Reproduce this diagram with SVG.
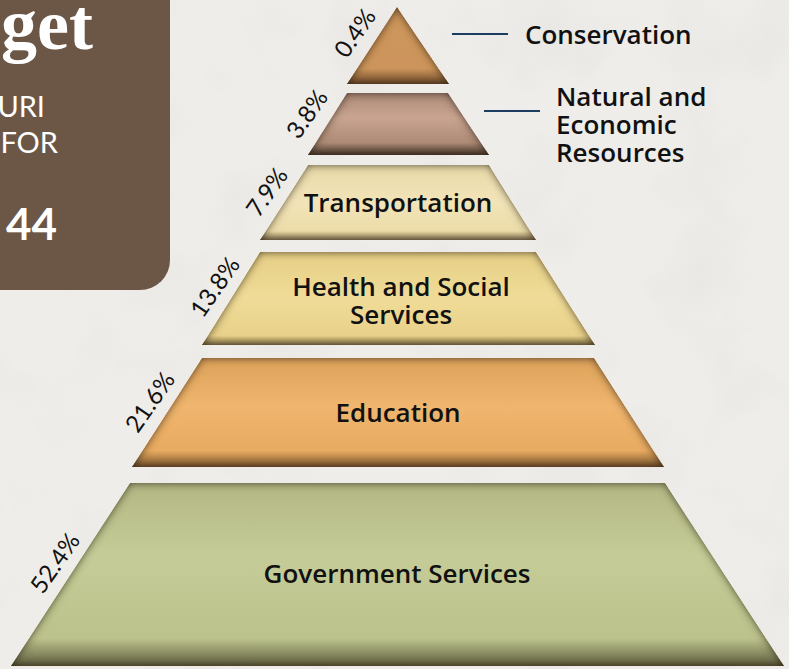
<svg xmlns="http://www.w3.org/2000/svg" width="789" height="669" viewBox="0 0 789 669">
<style>
.lbl{font-family:"Open Sans",Lato,"DejaVu Sans",sans-serif;font-weight:600;font-size:26px;fill:#111;}
.pct{font-family:Lato,"Open Sans","DejaVu Sans",sans-serif;font-weight:400;font-size:24px;fill:#111;}
.hdr{font-family:Lato,"Open Sans","DejaVu Sans",sans-serif;fill:#fff;}
.conn{stroke:#1d3c62;stroke-width:2;fill:none;}
.tier{filter:url(#inner);}
</style>
<defs>
<filter id="inner" x="-5%" y="-5%" width="110%" height="115%">
  <feGaussianBlur in="SourceAlpha" stdDeviation="4" result="b"/>
  <feComposite in="SourceAlpha" in2="b" operator="arithmetic" k2="1" k3="-1" result="edge"/>
  <feFlood flood-color="#3b2c1c" flood-opacity="0.75"/>
  <feComposite in2="edge" operator="in" result="sh"/>
  <feMerge><feMergeNode in="SourceGraphic"/><feMergeNode in="sh"/><feMergeNode in="sh"/></feMerge>
</filter>
<filter id="tex" x="0" y="0" width="100%" height="100%">
  <feTurbulence type="fractalNoise" baseFrequency="0.012" numOctaves="3" seed="4"/>
  <feColorMatrix type="matrix" values="0 0 0 0 0.6  0 0 0 0 0.58  0 0 0 0 0.56  0 0 0 -0.9 0.5"/>
</filter>
<linearGradient id="g1" x1="0" y1="0" x2="0" y2="1"><stop offset="0" stop-color="#cd975c"/><stop offset="0.8" stop-color="#cc945b"/><stop offset="1" stop-color="#6e4c2e"/></linearGradient>
<linearGradient id="g2" x1="0" y1="0" x2="0" y2="1"><stop offset="0" stop-color="#ab8b78"/><stop offset="0.4" stop-color="#c9a591"/><stop offset="0.8" stop-color="#ad8b76"/><stop offset="1" stop-color="#4a3a30"/></linearGradient>
<linearGradient id="g3" x1="0" y1="0" x2="0" y2="1"><stop offset="0" stop-color="#e8d9a8"/><stop offset="0.5" stop-color="#f2e4b8"/><stop offset="0.88" stop-color="#ecdca8"/><stop offset="1" stop-color="#8f7d5a"/></linearGradient>
<linearGradient id="g4" x1="0" y1="0" x2="0" y2="1"><stop offset="0" stop-color="#e6cf86"/><stop offset="0.5" stop-color="#f0dc98"/><stop offset="0.9" stop-color="#e8d18a"/><stop offset="1" stop-color="#8c7a4c"/></linearGradient>
<linearGradient id="g5" x1="0" y1="0" x2="0" y2="1"><stop offset="0" stop-color="#dda35c"/><stop offset="0.45" stop-color="#f0b56e"/><stop offset="0.85" stop-color="#e8ab62"/><stop offset="1" stop-color="#7a5530"/></linearGradient>
<linearGradient id="g6" x1="0" y1="0" x2="0" y2="1"><stop offset="0" stop-color="#b3b783"/><stop offset="0.4" stop-color="#c5cc97"/><stop offset="0.85" stop-color="#bcc28c"/><stop offset="1" stop-color="#5e5f40"/></linearGradient>
</defs>
<rect x="0" y="0" width="789" height="669" fill="#efedea"/>
<rect x="0" y="0" width="789" height="669" filter="url(#tex)" opacity="0.35"/>

<g id="header">
  <path d="M-10,-10 H170 V260 A30,30 0 0 1 140,290 H-10 Z" fill="#6c5645"/>
  <text class="hdr" x="93" y="49" text-anchor="end" font-weight="700" font-size="72" style="font-family:'Liberation Serif',serif">get</text>
  <text class="hdr" x="45" y="117" text-anchor="end" font-size="29">URI</text>
  <text class="hdr" x="58" y="153" text-anchor="end" font-size="29">FOR</text>
  <text class="hdr" x="57" y="240" text-anchor="end" font-size="44" font-weight="700">44</text>
</g>

<g id="conservation">
  <polygon class="tier" points="397,7 449,84 347,84" fill="url(#g1)"/>
  <text class="pct" x="355" y="33" dy="0.35em" text-anchor="middle" transform="rotate(-55 355 33)">0.4%</text>
  <text class="lbl" x="525" y="44">Conservation</text>
</g>

<g id="natural">
  <polygon class="tier" points="347,93 448,93 489,155 308,155" fill="url(#g2)"/>
  <text class="pct" x="307" y="114" dy="0.35em" text-anchor="middle" transform="rotate(-55 307 114)">3.8%</text>
  <text class="lbl" x="556" y="106">Natural and</text>
  <text class="lbl" x="556" y="134">Economic</text>
  <text class="lbl" x="556" y="162">Resources</text>
</g>

<g id="transportation">
  <polygon class="tier" points="308,165 489,165 536,240 260,240" fill="url(#g3)"/>
  <text class="pct" x="267" y="192" dy="0.35em" text-anchor="middle" transform="rotate(-55 267 192)">7.9%</text>
  <text class="lbl" x="398" y="212" text-anchor="middle">Transportation</text>
</g>

<g id="health">
  <polygon class="tier" points="260,252 536,252 595,345 202,345" fill="url(#g4)"/>
  <text class="pct" x="215" y="287" dy="0.35em" text-anchor="middle" transform="rotate(-55 215 287)">13.8%</text>
  <text class="lbl" x="401" y="296" text-anchor="middle">Health and Social</text>
  <text class="lbl" x="401" y="324" text-anchor="middle">Services</text>
</g>

<g id="education">
  <polygon class="tier" points="202,358 594,358 664,467 132,467" fill="url(#g5)"/>
  <text class="pct" x="150" y="402" dy="0.35em" text-anchor="middle" transform="rotate(-55 150 402)">21.6%</text>
  <text class="lbl" x="398" y="422" text-anchor="middle">Education</text>
</g>

<g id="government">
  <polygon class="tier" points="130,483 665,483 784,666 11,666" fill="url(#g6)"/>
  <text class="pct" x="55" y="563" dy="0.35em" text-anchor="middle" transform="rotate(-55 55 563)">52.4%</text>
  <text class="lbl" x="397" y="583" text-anchor="middle">Government Services</text>
</g>

<g id="connectors">
  <line class="conn" x1="452" y1="34" x2="508" y2="34"/>
  <line class="conn" x1="484" y1="111" x2="540" y2="111"/>
</g>
</svg>
